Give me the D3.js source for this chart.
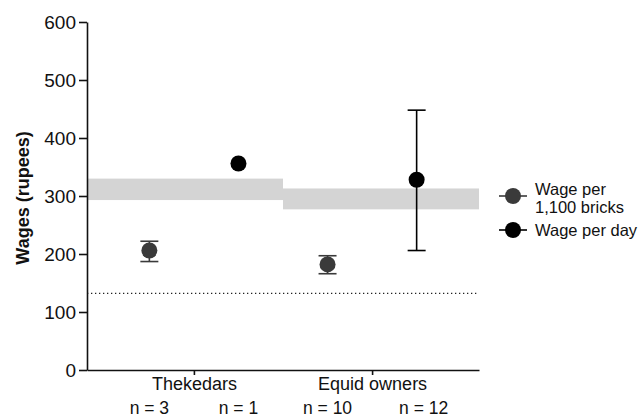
<!DOCTYPE html>
<html>
<head>
<meta charset="utf-8">
<script src="https://cdn.jsdelivr.net/npm/d3@7"></script>
<style>
  body { margin: 0; background: #fff; }
  svg { display: block; font-family: "Liberation Sans", Arial, sans-serif; }
</style>
</head>
<body>
<svg id="wageChart" width="641" height="418"></svg>
<script>
// groups along the x axis and the two series drawn in each
const groups = ["Thekedars", "Equid owners"];
const seriesNames = ["Wage per\n1,100 bricks", "Wage per day"];
// one entry per point, order: Thekedars brick, Thekedars day, Equid brick, Equid day
const pointGroup = [0, 0, 1, 1];
const pointSeries = [0, 1, 0, 1];
const sampleSizes = [3, 1, 10, 12];
const meanWage = [206, 356, 182, 328];
const errLow = [187, null, 166, 206];
const errHigh = [222, null, 197, 448];
// grey reference bands per group
const bandLow = [293, 277];
const bandHigh = [330, 313];
const dottedLine = 132;
const yTicks = [0, 100, 200, 300, 400, 500, 600];

const svg = d3.select("#wageChart");
const width = 641, height = 418;
const margens = { left: 87, right: 162, top: 22, bottom: 48 };
const seriesColor = ["#3a3a3a", "#000"];

const mapX = d3.scaleLinear()
    .domain([0.3, 4.7])
    .range([margens.left, width - margens.right]);
const mapY = d3.scaleLinear()
    .domain([0, 600])
    .range([height - margens.bottom, margens.top]);

// bands
svg.append("g")
    .selectAll("rect")
    .data(groups)
    .enter()
    .append("rect")
    .attr("x", (d, i) => mapX(0.3 + i * 2.2))
    .attr("width", mapX(2.5) - mapX(0.3))
    .attr("y", (d, i) => mapY(bandHigh[i]))
    .attr("height", (d, i) => mapY(bandLow[i]) - mapY(bandHigh[i]))
    .attr("fill", "#d4d4d4");

// dotted line
svg.append("line")
    .attr("x1", mapX(0.3))
    .attr("x2", mapX(4.7))
    .attr("y1", mapY(dottedLine))
    .attr("y2", mapY(dottedLine))
    .attr("stroke", "#222")
    .attr("stroke-width", 1.3)
    .attr("stroke-dasharray", "1.3 2.7");

// y axis
const yAxis = d3.axisLeft(mapY).tickValues(yTicks).tickSize(8).tickPadding(3).tickSizeOuter(0);
const gy = svg.append("g")
    .attr("transform", `translate(${margens.left},0)`)
    .call(yAxis);
gy.select(".domain").attr("stroke", "#111").attr("stroke-width", 1.6);
gy.selectAll(".tick line").attr("stroke", "#111").attr("stroke-width", 1.6);
gy.selectAll(".tick text").attr("font-size", 19).attr("fill", "#111").attr("font-family", "Liberation Sans, Arial, sans-serif");

// x axis
const xAxis = d3.axisBottom(mapX).tickValues([1.5, 3.5]).tickFormat((d, i) => groups[i])
    .tickSize(5).tickPadding(2).tickSizeOuter(0);
const gx = svg.append("g")
    .attr("transform", `translate(0,${height - margens.bottom})`)
    .call(xAxis);
gx.select(".domain").attr("stroke", "#111").attr("stroke-width", 1.6);
gx.selectAll(".tick line").attr("stroke", "#111").attr("stroke-width", 1.6);
gx.selectAll(".tick text").attr("font-size", 18).attr("fill", "#111").attr("font-family", "Liberation Sans, Arial, sans-serif");

// sample sizes
svg.append("g")
    .selectAll("text")
    .data(sampleSizes)
    .enter()
    .append("text")
    .attr("x", (d, i) => mapX(i + 1) + (i === 3 ? 7 : 0))
    .attr("y", 414)
    .attr("text-anchor", "middle")
    .attr("font-size", 17.5)
    .attr("fill", "#111")
    .text((d) => `n = ${d}`);

// y label
svg.append("text")
    .attr("transform", `translate(29,${mapY(300) + 2}) rotate(-90)`)
    .attr("text-anchor", "middle")
    .attr("font-size", 18)
    .attr("font-weight", "bold")
    .attr("fill", "#111")
    .text("Wages (rupees)");

// error bars
const bars = svg.append("g");
meanWage.forEach((m, i) => {
    if (errLow[i] == null) return;
    const cx = mapX(i + 1);
    const col = seriesColor[pointSeries[i]];
    bars.append("line")
        .attr("x1", cx).attr("x2", cx)
        .attr("y1", mapY(errLow[i])).attr("y2", mapY(errHigh[i]))
        .attr("stroke", col).attr("stroke-width", 1.6);
    [errLow[i], errHigh[i]].forEach((v) => {
        bars.append("line")
            .attr("x1", cx - 9).attr("x2", cx + 9)
            .attr("y1", mapY(v)).attr("y2", mapY(v))
            .attr("stroke", col).attr("stroke-width", 1.6);
    });
});

// points
svg.append("g")
    .selectAll("circle")
    .data(meanWage)
    .enter()
    .append("circle")
    .attr("cx", (d, i) => mapX(i + 1))
    .attr("cy", (d) => mapY(d))
    .attr("r", 8)
    .attr("fill", (d, i) => seriesColor[pointSeries[i]]);

// legend
const legendY = [196, 230];
const legend = svg.append("g");
seriesNames.forEach((name, i) => {
    legend.append("line")
        .attr("x1", 499).attr("x2", 527)
        .attr("y1", legendY[i]).attr("y2", legendY[i])
        .attr("stroke", seriesColor[i]).attr("stroke-width", 1.6);
    legend.append("circle")
        .attr("cx", 513).attr("cy", legendY[i]).attr("r", 8)
        .attr("fill", seriesColor[i]);
    const lines = name.split("\n");
    const t = legend.append("text")
        .attr("x", 535)
        .attr("y", lines.length > 1 ? 195 : 236)
        .attr("font-size", 16.5)
        .attr("fill", "#111");
    lines.forEach((l, j) => {
        t.append("tspan").attr("x", 535).attr("dy", j === 0 ? 0 : 17.5).text(l);
    });
});
</script>
</body>
</html>
